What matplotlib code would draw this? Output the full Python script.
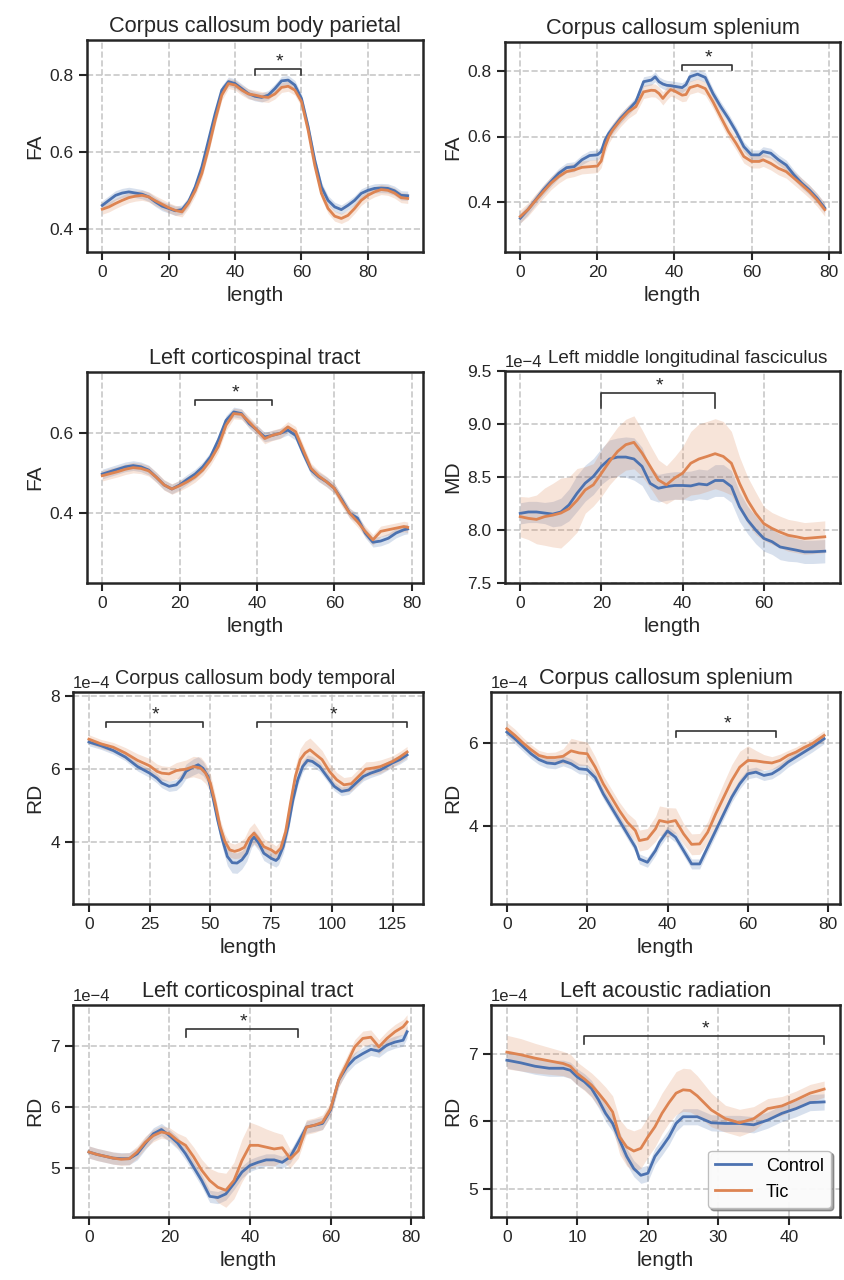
import numpy as np
import matplotlib
matplotlib.use('Agg')
import matplotlib.pyplot as plt

plt.rcParams['font.family'] = ['Liberation Sans', 'DejaVu Sans']

CONTROL_COLOR = '#4C72B0'
TIC_COLOR = '#DD8452'
TEXT_COLOR = '#262626'
SCALE = 1e-4   # MD / RD panels are typed in units of 1e-4

# ---------------- Row 1 left: Corpus callosum body parietal (FA)
par_x = [0, 2, 4, 6, 8, 10, 12, 14, 16, 18, 20, 22, 24, 26, 28, 30, 32, 34, 36, 38, 40, 42, 44, 46,
         48, 50, 52, 54, 56, 58, 60, 62, 64, 66, 68, 70, 72, 74, 76, 78, 80, 82, 84, 86, 88, 90, 92]
par_ctrl = [0.462, 0.475, 0.488, 0.494, 0.497, 0.494, 0.491, 0.484, 0.471, 0.460, 0.454, 0.448,
            0.451, 0.472, 0.510, 0.562, 0.631, 0.700, 0.761, 0.783, 0.778, 0.765, 0.752, 0.745,
            0.742, 0.748, 0.765, 0.785, 0.787, 0.774, 0.739, 0.666, 0.579, 0.510, 0.475, 0.458,
            0.451, 0.462, 0.475, 0.493, 0.501, 0.506, 0.507, 0.506, 0.500, 0.488, 0.487]
par_tic = [0.452, 0.458, 0.467, 0.475, 0.482, 0.486, 0.488, 0.484, 0.474, 0.465, 0.456, 0.449,
           0.445, 0.468, 0.500, 0.545, 0.610, 0.683, 0.748, 0.778, 0.774, 0.761, 0.751, 0.748,
           0.744, 0.742, 0.751, 0.768, 0.771, 0.761, 0.731, 0.657, 0.566, 0.493, 0.454, 0.434,
           0.428, 0.436, 0.454, 0.475, 0.488, 0.497, 0.503, 0.501, 0.494, 0.482, 0.480]
par_ctrl_ci = 0.012
par_tic_ci = 0.013
par_sig = [(46, 60, 0.815, 0.800)]

# ---------------- Row 1 right: Corpus callosum splenium (FA)
splfa_x = [0, 2, 4, 6, 8, 10, 12, 14, 16, 18, 20, 21, 22, 23, 24, 26, 28, 30, 32, 34, 35, 36, 37,
           38, 39, 40, 42, 43, 44, 46, 48, 50, 52, 54, 56, 58, 60, 62, 63, 65, 67, 69, 71, 73, 75,
           77, 79]
splfa_ctrl = [0.351, 0.377, 0.407, 0.437, 0.463, 0.488, 0.505, 0.508, 0.529, 0.542, 0.544, 0.554,
              0.589, 0.610, 0.625, 0.655, 0.680, 0.706, 0.767, 0.772, 0.782, 0.767, 0.760, 0.756,
              0.755, 0.753, 0.749, 0.758, 0.782, 0.790, 0.780, 0.731, 0.691, 0.655, 0.615, 0.569,
              0.544, 0.544, 0.554, 0.549, 0.529, 0.513, 0.483, 0.458, 0.437, 0.412, 0.382]
splfa_tic = [0.356, 0.377, 0.405, 0.432, 0.458, 0.478, 0.493, 0.498, 0.506, 0.508, 0.510, 0.525,
             0.569, 0.600, 0.620, 0.650, 0.675, 0.691, 0.736, 0.741, 0.740, 0.731, 0.716, 0.731,
             0.743, 0.739, 0.726, 0.728, 0.749, 0.756, 0.746, 0.706, 0.660, 0.615, 0.579, 0.539,
             0.524, 0.524, 0.529, 0.518, 0.503, 0.493, 0.473, 0.453, 0.432, 0.407, 0.377]
splfa_ctrl_ci = 0.015
splfa_tic_ci = 0.02
splfa_sig = [(42, 55, 0.817, 0.802)]

# ---------------- Row 2 left: Left corticospinal tract (FA)
cstfa_x = [0, 2, 4, 6, 8, 10, 12, 14, 16, 18, 20, 22, 24, 26, 28, 30, 32, 34, 36, 38, 40, 42, 44,
           46, 48, 50, 52, 54, 56, 58, 60, 62, 64, 66, 68, 70, 72, 74, 76, 78, 79]
cstfa_ctrl = [0.497, 0.503, 0.509, 0.515, 0.518, 0.515, 0.507, 0.489, 0.470, 0.460, 0.470, 0.484,
              0.497, 0.515, 0.540, 0.581, 0.630, 0.651, 0.647, 0.622, 0.606, 0.589, 0.593, 0.598,
              0.606, 0.593, 0.548, 0.507, 0.490, 0.478, 0.462, 0.433, 0.400, 0.388, 0.351, 0.328,
              0.331, 0.338, 0.351, 0.359, 0.361]
cstfa_tic = [0.493, 0.498, 0.503, 0.509, 0.513, 0.511, 0.505, 0.489, 0.470, 0.460, 0.468, 0.478,
             0.490, 0.507, 0.532, 0.565, 0.618, 0.647, 0.645, 0.626, 0.606, 0.585, 0.593, 0.598,
             0.614, 0.602, 0.556, 0.511, 0.492, 0.478, 0.462, 0.429, 0.400, 0.379, 0.355, 0.334,
             0.355, 0.359, 0.363, 0.367, 0.365]
cstfa_ctrl_ci = 0.012
cstfa_tic_ci = 0.013
cstfa_sig = [(24, 44, 0.680, 0.667)]

# ---------------- Row 2 right: Left middle longitudinal fasciculus (MD, x1e-4)
mlf_x = [0, 2, 4, 6, 8, 10, 12, 14, 16, 18, 20, 22, 24, 26, 28, 30, 32, 34, 36, 38, 40, 42, 44,
         46, 48, 50, 52, 54, 56, 58, 60, 62, 64, 66, 68, 70, 72, 75]
mlf_ctrl = [8.157, 8.17, 8.17, 8.16, 8.15, 8.17, 8.236, 8.347, 8.442, 8.505, 8.60, 8.67, 8.688,
            8.688, 8.67, 8.60, 8.44, 8.394, 8.41, 8.42, 8.42, 8.416, 8.435, 8.426, 8.467, 8.467,
            8.41, 8.22, 8.094, 8.0, 7.92, 7.89, 7.84, 7.825, 7.81, 7.794, 7.794, 7.80]
mlf_tic = [8.126, 8.11, 8.10, 8.126, 8.14, 8.16, 8.20, 8.28, 8.378, 8.426, 8.536, 8.647, 8.742,
           8.805, 8.827, 8.726, 8.60, 8.473, 8.426, 8.49, 8.536, 8.63, 8.67, 8.694, 8.72, 8.694,
           8.63, 8.44, 8.28, 8.157, 8.06, 8.015, 7.98, 7.95, 7.936, 7.92, 7.926, 7.936]
mlf_ctrl_ci = [0.10, 0.10, 0.10, 0.10, 0.12, 0.13, 0.15, 0.17, 0.17, 0.17, 0.17, 0.18, 0.18, 0.19,
               0.20, 0.18, 0.15, 0.13, 0.13, 0.13, 0.13, 0.14, 0.14, 0.14, 0.15, 0.15, 0.15, 0.14,
               0.13, 0.13, 0.12, 0.12, 0.12, 0.12, 0.11, 0.11, 0.11, 0.11]
mlf_tic_ci = [0.19, 0.20, 0.23, 0.27, 0.30, 0.33, 0.30, 0.30, 0.22, 0.20, 0.22, 0.22, 0.23, 0.24,
              0.25, 0.22, 0.20, 0.19, 0.18, 0.20, 0.25, 0.30, 0.33, 0.33, 0.33, 0.33, 0.30, 0.25,
              0.22, 0.20, 0.16, 0.15, 0.15, 0.15, 0.15, 0.15, 0.15, 0.15]
mlf_sig = [(20, 48, 9.288, 9.15)]

# ---------------- Row 3 left: Corpus callosum body temporal (RD, x1e-4)
tmp_ctrl_x = [0, 5, 10, 15, 20, 25, 28, 30, 33, 36, 38, 40, 43, 45, 47, 49, 51, 53, 55, 57, 59, 61,
              63, 65, 67, 68, 70, 72, 75, 77, 78, 80, 82, 84, 86, 88, 90, 92, 95, 98, 101, 104,
              107, 110, 113, 116, 120, 125, 128, 131]
tmp_ctrl = [6.73, 6.63, 6.50, 6.32, 6.06, 5.88, 5.74, 5.61, 5.52, 5.56, 5.70, 5.93, 6.05, 6.11,
            6.01, 5.79, 5.24, 4.60, 4.05, 3.60, 3.43, 3.42, 3.51, 3.69, 4.05, 4.13, 3.96, 3.69,
            3.55, 3.49, 3.55, 3.87, 4.42, 5.15, 5.70, 6.06, 6.23, 6.20, 6.06, 5.79, 5.52, 5.38,
            5.42, 5.61, 5.79, 5.88, 5.97, 6.16, 6.25, 6.38]
tmp_ctrl_ci = [0.10, 0.10, 0.10, 0.10, 0.12, 0.12, 0.13, 0.13, 0.14, 0.15, 0.17, 0.20, 0.22, 0.22,
               0.20, 0.18, 0.18, 0.20, 0.22, 0.25, 0.28, 0.28, 0.25, 0.22, 0.20, 0.20, 0.20, 0.20,
               0.18, 0.18, 0.18, 0.18, 0.18, 0.16, 0.15, 0.15, 0.15, 0.14, 0.13, 0.12, 0.12, 0.12,
               0.12, 0.12, 0.12, 0.12, 0.12, 0.12, 0.12, 0.12]
tmp_tic_x = [0, 5, 10, 15, 20, 25, 28, 30, 33, 36, 40, 43, 46, 48, 50, 52, 54, 56, 58, 60, 62, 64,
             66, 68, 70, 72, 75, 77, 79, 81, 83, 85, 87, 89, 91, 93, 96, 99, 102, 105, 108, 111,
             114, 117, 120, 125, 128, 131]
tmp_tic = [6.81, 6.68, 6.59, 6.43, 6.23, 6.08, 5.93, 5.88, 5.86, 5.95, 5.99, 6.06, 6.02, 5.88,
           5.61, 5.06, 4.42, 4.01, 3.78, 3.74, 3.78, 3.85, 4.10, 4.24, 4.07, 3.87, 3.78, 3.69,
           3.83, 4.28, 5.06, 5.79, 6.25, 6.43, 6.52, 6.41, 6.25, 5.93, 5.70, 5.56, 5.59, 5.79,
           5.99, 6.02, 6.06, 6.20, 6.32, 6.46]
tmp_tic_ci = [0.12, 0.12, 0.13, 0.15, 0.18, 0.20, 0.20, 0.20, 0.20, 0.22, 0.25, 0.28, 0.30, 0.28,
              0.25, 0.22, 0.20, 0.20, 0.20, 0.20, 0.22, 0.25, 0.28, 0.28, 0.25, 0.22, 0.20, 0.20,
              0.20, 0.22, 0.25, 0.28, 0.30, 0.32, 0.32, 0.30, 0.25, 0.22, 0.20, 0.20, 0.20, 0.20,
              0.20, 0.18, 0.18, 0.15, 0.15, 0.15]
tmp_sig = [(7, 47, 7.27, 7.14), (69, 131, 7.27, 7.14)]

# ---------------- Row 3 right: Corpus callosum splenium (RD, x1e-4)
splrd_x = [0, 2, 4, 6, 8, 10, 12, 14, 16, 18, 20, 22, 24, 26, 28, 30, 32, 33, 35, 37, 38, 40, 42,
           44, 46, 48, 50, 52, 54, 56, 58, 60, 62, 64, 66, 68, 70, 72, 74, 76, 79]
splrd_ctrl = [6.26, 6.10, 5.92, 5.74, 5.60, 5.52, 5.50, 5.57, 5.50, 5.38, 5.36, 5.17, 4.78, 4.46,
              4.14, 3.82, 3.50, 3.22, 3.14, 3.42, 3.62, 3.89, 3.74, 3.42, 3.10, 3.10, 3.50, 3.90,
              4.30, 4.70, 5.02, 5.26, 5.30, 5.22, 5.26, 5.38, 5.54, 5.66, 5.78, 5.90, 6.10]
splrd_tic = [6.34, 6.18, 6.00, 5.84, 5.70, 5.65, 5.65, 5.68, 5.81, 5.76, 5.74, 5.42, 5.02, 4.70,
             4.38, 4.10, 3.90, 3.66, 3.70, 3.94, 4.14, 4.10, 4.14, 3.82, 3.57, 3.58, 3.86, 4.30,
             4.70, 5.10, 5.42, 5.58, 5.57, 5.54, 5.52, 5.58, 5.70, 5.78, 5.89, 5.98, 6.18]
splrd_ctrl_ci = 0.12
splrd_tic_ci = [0.15, 0.15, 0.13, 0.12, 0.12, 0.12, 0.13, 0.18, 0.30, 0.30, 0.28, 0.25, 0.20, 0.20,
                0.20, 0.22, 0.25, 0.25, 0.25, 0.30, 0.35, 0.35, 0.30, 0.25, 0.25, 0.25, 0.25, 0.30,
                0.35, 0.38, 0.38, 0.35, 0.25, 0.18, 0.15, 0.15, 0.12, 0.12, 0.12, 0.12, 0.12]
splrd_sig = [(42, 67, 6.29, 6.14)]

# ---------------- Row 4 left: Left corticospinal tract (RD, x1e-4)
cstrd_x = [0, 2, 4, 6, 8, 10, 12, 14, 16, 18, 20, 22, 24, 26, 28, 30, 32, 34, 36, 38, 40, 42, 44,
           46, 48, 50, 52, 54, 56, 58, 60, 62, 64, 66, 68, 70, 72, 74, 76, 78, 79]
cstrd_ctrl = [5.26, 5.22, 5.19, 5.16, 5.15, 5.15, 5.23, 5.40, 5.56, 5.63, 5.53, 5.41, 5.23, 5.01,
              4.79, 4.53, 4.51, 4.57, 4.74, 4.93, 5.04, 5.09, 5.13, 5.13, 5.09, 5.18, 5.42, 5.67,
              5.70, 5.73, 5.95, 6.44, 6.66, 6.80, 6.88, 6.95, 6.92, 7.02, 7.07, 7.10, 7.24]
cstrd_tic = [5.26, 5.22, 5.19, 5.16, 5.14, 5.15, 5.26, 5.42, 5.53, 5.59, 5.56, 5.45, 5.37, 5.18,
             4.96, 4.79, 4.68, 4.63, 4.79, 5.12, 5.37, 5.37, 5.34, 5.31, 5.33, 5.15, 5.28, 5.67,
             5.70, 5.75, 5.97, 6.44, 6.71, 6.99, 7.13, 7.15, 6.99, 7.13, 7.24, 7.32, 7.40]
cstrd_ctrl_ci = 0.10
cstrd_tic_ci = [0.10, 0.10, 0.10, 0.10, 0.10, 0.10, 0.10, 0.10, 0.10, 0.10, 0.10, 0.12, 0.14, 0.16,
                0.18, 0.20, 0.25, 0.28, 0.30, 0.35, 0.38, 0.33, 0.30, 0.28, 0.22, 0.15, 0.12, 0.12,
                0.12, 0.12, 0.12, 0.12, 0.12, 0.12, 0.12, 0.12, 0.12, 0.12, 0.12, 0.12, 0.12]
cstrd_sig = [(24, 52, 7.28, 7.15)]

# ---------------- Row 4 right: Left acoustic radiation (RD, x1e-4)
ar_x = [0, 2, 4, 6, 8, 9, 10, 11, 12, 13, 14, 15, 16, 17, 18, 19, 20, 21, 22, 23, 24, 25, 26, 27,
        29, 31, 33, 35, 37, 39, 41, 43, 45]
ar_ctrl = [6.91, 6.87, 6.82, 6.79, 6.79, 6.76, 6.66, 6.59, 6.49, 6.32, 6.12, 5.97, 5.72, 5.48,
           5.30, 5.20, 5.23, 5.48, 5.62, 5.77, 5.97, 6.07, 6.07, 6.07, 5.98, 5.97, 5.97, 5.95,
           6.02, 6.12, 6.19, 6.28, 6.29]
ar_tic = [7.03, 6.99, 6.94, 6.90, 6.86, 6.82, 6.71, 6.63, 6.54, 6.42, 6.29, 6.14, 5.77, 5.62,
          5.56, 5.60, 5.77, 5.92, 6.12, 6.28, 6.42, 6.47, 6.46, 6.38, 6.17, 6.04, 5.98, 6.04,
          6.19, 6.23, 6.32, 6.42, 6.48]
ar_ctrl_ci = 0.12
ar_tic_ci = [0.25, 0.24, 0.22, 0.20, 0.18, 0.18, 0.17, 0.17, 0.18, 0.20, 0.22, 0.24, 0.26, 0.28,
             0.30, 0.30, 0.30, 0.30, 0.30, 0.30, 0.32, 0.32, 0.32, 0.30, 0.25, 0.20, 0.20, 0.18,
             0.15, 0.14, 0.13, 0.13, 0.12]
ar_sig = [(11, 45, 7.27, 7.15)]


def draw_tract(ax, title, ylabel, ctrl, tic, sig, ylim, yticks, scale=1.0,
               title_x=0.5, title_size=15.7):
    series = [(ctrl, CONTROL_COLOR, 'Control'), (tic, TIC_COLOR, 'Tic')]
    # bands first so both lines sit on top of the shading
    for (x, y, ci), color, _ in series:
        y = np.asarray(y) * scale
        ci = np.asarray(ci) * scale
        ax.fill_between(x, y - ci, y + ci, color=color, alpha=0.22, linewidth=0)
    for (x, y, ci), color, label in series:
        ax.plot(x, np.asarray(y) * scale, color=color, lw=2.0, label=label)

    # significance brackets
    for x0, x1, top, bottom in sig:
        ax.plot([x0, x0, x1, x1], [bottom * scale, top * scale, top * scale, bottom * scale],
                color='#333333', lw=1.2)
        ax.annotate('*', xy=((x0 + x1) / 2, top * scale), xytext=(1, -1),
                    textcoords='offset points', ha='center', va='bottom',
                    fontsize=14, color=TEXT_COLOR)

    ax.set_ylim(ylim[0] * scale, ylim[1] * scale)
    ax.set_yticks([t * scale for t in yticks])
    if scale != 1.0:
        ax.ticklabel_format(axis='y', style='sci', scilimits=(0, 0))
        ax.yaxis.get_offset_text().set_fontsize(12)
    # fixed y keeps the title level with the "1e-4" offset text instead of above it
    ax.set_title(title, fontsize=title_size, color=TEXT_COLOR, x=title_x, y=1.0, pad=6)
    ax.set_xlabel('length', fontsize=15, color=TEXT_COLOR)
    ax.set_ylabel(ylabel, fontsize=15, color=TEXT_COLOR)
    ax.grid(True, ls='--', color='#c8c8c8', lw=1.2)
    ax.set_axisbelow(True)
    ax.tick_params(direction='out', length=6, width=1.5, labelsize=12.5,
                   color=TEXT_COLOR, labelcolor=TEXT_COLOR)
    for sp in ax.spines.values():
        sp.set_linewidth(1.8)
        sp.set_color(TEXT_COLOR)


W, H = 844, 1280
fig = plt.figure(figsize=(W / 100, H / 100), dpi=100)


def add_axes(x0, x1, y0, y1):
    # pixel box -> figure fraction
    return fig.add_axes([x0 / W, 1 - y1 / H, (x1 - x0) / W, (y1 - y0) / H])


ax1 = add_axes(87, 423, 40, 252)
ax2 = add_axes(505, 840, 42, 252)
ax3 = add_axes(87, 423, 372, 583)
ax4 = add_axes(505, 840, 371, 583)
ax5 = add_axes(73, 423, 692, 904)
ax6 = add_axes(491, 840, 692, 904)
ax7 = add_axes(73, 423, 1005, 1217)
ax8 = add_axes(491, 840, 1005, 1217)

draw_tract(ax1, 'Corpus callosum body parietal', 'FA',
           (par_x, par_ctrl, par_ctrl_ci), (par_x, par_tic, par_tic_ci), par_sig,
           (0.341, 0.891), [0.4, 0.6, 0.8])
draw_tract(ax2, 'Corpus callosum splenium', 'FA',
           (splfa_x, splfa_ctrl, splfa_ctrl_ci), (splfa_x, splfa_tic, splfa_tic_ci), splfa_sig,
           (0.248, 0.888), [0.4, 0.6, 0.8])
draw_tract(ax3, 'Left corticospinal tract', 'FA',
           (cstfa_x, cstfa_ctrl, cstfa_ctrl_ci), (cstfa_x, cstfa_tic, cstfa_tic_ci), cstfa_sig,
           (0.227, 0.750), [0.4, 0.6])
draw_tract(ax4, 'Left middle longitudinal fasciculus', 'MD',
           (mlf_x, mlf_ctrl, mlf_ctrl_ci), (mlf_x, mlf_tic, mlf_tic_ci), mlf_sig,
           (7.5, 9.5), [7.5, 8.0, 8.5, 9.0, 9.5], scale=SCALE,
           title_x=0.545, title_size=13.6)
draw_tract(ax5, 'Corpus callosum body temporal', 'RD',
           (tmp_ctrl_x, tmp_ctrl, tmp_ctrl_ci), (tmp_tic_x, tmp_tic, tmp_tic_ci), tmp_sig,
           (2.30, 8.10), [4, 6, 8], scale=SCALE, title_x=0.52, title_size=14.3)
draw_tract(ax6, 'Corpus callosum splenium', 'RD',
           (splrd_x, splrd_ctrl, splrd_ctrl_ci), (splrd_x, splrd_tic, splrd_tic_ci), splrd_sig,
           (2.14, 7.22), [4, 6], scale=SCALE)
draw_tract(ax7, 'Left corticospinal tract', 'RD',
           (cstrd_x, cstrd_ctrl, cstrd_ctrl_ci), (cstrd_x, cstrd_tic, cstrd_tic_ci), cstrd_sig,
           (4.19, 7.68), [5, 6, 7], scale=SCALE)
draw_tract(ax8, 'Left acoustic radiation', 'RD',
           (ar_x, ar_ctrl, ar_ctrl_ci), (ar_x, ar_tic, ar_tic_ci), ar_sig,
           (4.58, 7.73), [5, 6, 7], scale=SCALE)

for ax in (ax1, ax2, ax3, ax6, ax7):
    ax.set_xticks([0, 20, 40, 60, 80])
ax4.set_xticks([0, 20, 40, 60])
ax5.set_xticks([0, 25, 50, 75, 100, 125])
ax8.set_xticks([0, 10, 20, 30, 40])

leg = ax8.legend(loc='lower right', fontsize=13, shadow=True, fancybox=True,
                 framealpha=0.95, borderpad=0.4)
leg.get_frame().set_edgecolor('#bbbbbb')

fig.savefig('out.png', dpi=100)
